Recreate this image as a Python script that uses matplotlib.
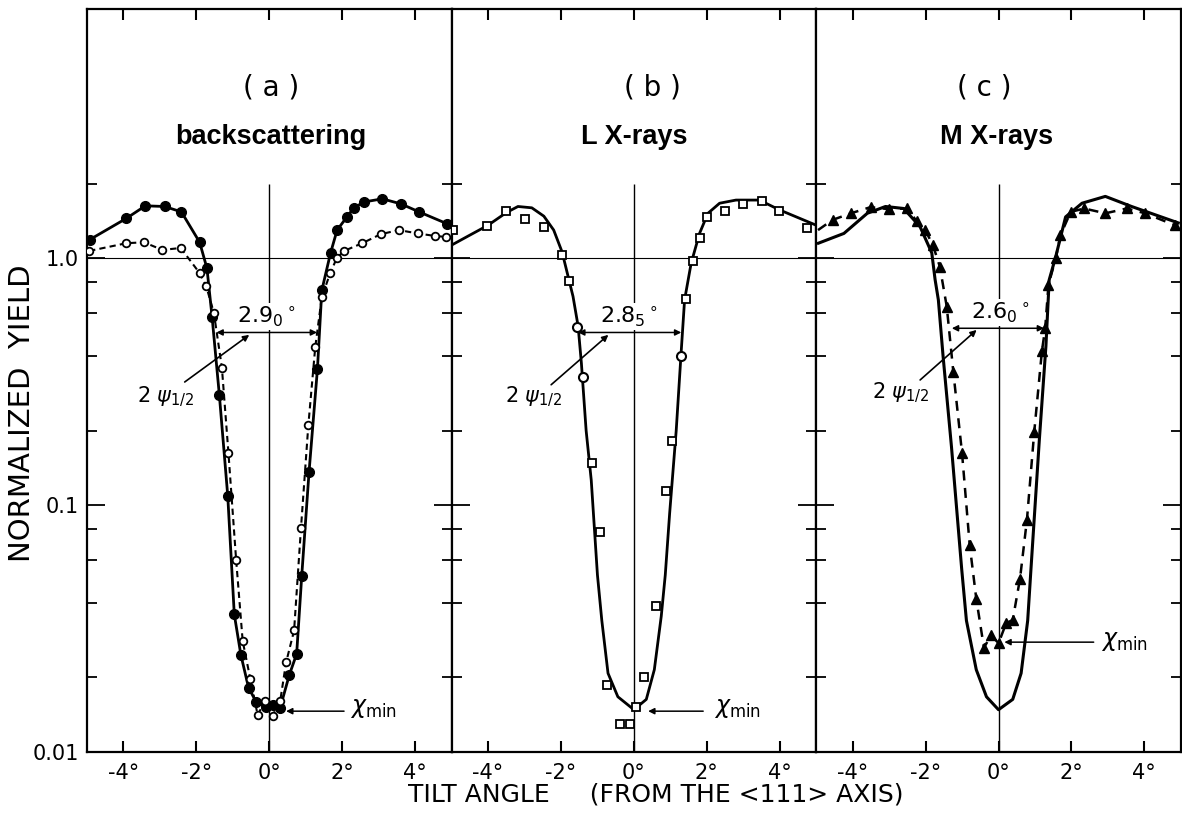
import matplotlib
matplotlib.use("Agg")
import matplotlib.pyplot as plt
from matplotlib.ticker import FixedLocator, NullFormatter

plt.rcParams["font.family"] = ["DejaVu Sans"]

# panel (a) backscattering: filled circles (solid line) and open circles (dashed line)
a_filled_x = [-4.92, -3.92, -3.40, -2.87, -2.41, -1.91, -1.71, -1.57, -1.37, -1.14, -0.96, -0.78, -0.57,
              -0.36, -0.09, 0.10, 0.30, 0.55, 0.75, 0.89, 1.09, 1.32, 1.44, 1.68, 1.86, 2.13, 2.32, 2.60,
              3.10, 3.61, 4.11, 4.87]
a_filled_y = [1.19, 1.45, 1.63, 1.62, 1.54, 1.16, 0.91, 0.58, 0.279, 0.109, 0.036, 0.0247, 0.0182,
              0.0159, 0.0152, 0.0155, 0.0151, 0.0205, 0.0249, 0.0517, 0.136, 0.355, 0.74, 1.05, 1.30, 1.47,
              1.60, 1.69, 1.74, 1.66, 1.54, 1.38]
a_open_x = [-4.94, -3.92, -3.44, -2.93, -2.43, -1.91, -1.73, -1.52, -1.30, -1.12, -0.91, -0.73, -0.52,
            -0.32, -0.11, 0.09, 0.30, 0.46, 0.68, 0.87, 1.07, 1.26, 1.44, 1.67, 1.85, 2.05, 2.55, 3.05,
            3.55, 4.07, 4.55, 4.85]
a_open_y = [1.07, 1.15, 1.16, 1.08, 1.10, 0.87, 0.77, 0.60, 0.36, 0.162, 0.060, 0.0281, 0.0197,
            0.0141, 0.0161, 0.0140, 0.0161, 0.0230, 0.031, 0.081, 0.21, 0.436, 0.695, 0.87, 1.0, 1.07,
            1.15, 1.25, 1.30, 1.26, 1.23, 1.22]

# panel (b) L X-rays: squares, a few circles, calculated curve
b_sq_x = [-4.95, -4.02, -3.50, -3.00, -2.47, -1.97, -1.79, -1.15, -0.94, -0.73, -0.37, -0.12, 0.06,
          0.27, 0.61, 0.87, 1.04, 1.43, 1.62, 1.82, 2.01, 2.51, 3.00, 3.52, 3.99, 4.74]
b_sq_y = [1.30, 1.35, 1.55, 1.44, 1.34, 1.03, 0.81, 0.148, 0.0775, 0.0186, 0.0129, 0.0129, 0.0152,
          0.0201, 0.039, 0.114, 0.181, 0.684, 0.975, 1.21, 1.47, 1.56, 1.66, 1.70, 1.55, 1.32]
b_circ_x = [-1.55, -1.40, 1.28]
b_circ_y = [0.525, 0.33, 0.402]
b_curve_x = [-5.0, -4.5, -4.0, -3.5, -3.18, -2.8, -2.47, -2.2, -1.97, -1.67, -1.53, -1.44, -1.31, -1.17,
             -1.0, -0.88, -0.71, -0.44, 0.0, 0.34, 0.56, 0.75, 0.86, 0.98, 1.16, 1.30, 1.39, 1.57, 1.80,
             2.03, 2.35, 2.80, 3.44, 3.99, 5.0]
b_curve_y = [1.13, 1.24, 1.36, 1.53, 1.62, 1.60, 1.48, 1.30, 1.06, 0.70, 0.53, 0.375, 0.20, 0.126,
             0.052, 0.034, 0.0208, 0.0167, 0.0148, 0.0163, 0.0215, 0.0354, 0.052, 0.0924, 0.20, 0.425,
             0.678, 0.954, 1.26, 1.52, 1.67, 1.72, 1.72, 1.57, 1.36]

# panel (c) M X-rays: triangles (dashed) and calculated curve
c_tri_x = [-4.55, -4.05, -3.51, -3.01, -2.51, -2.24, -2.01, -1.80, -1.61, -1.42, -1.24, -1.0, -0.79,
           -0.61, -0.40, -0.20, 0.0, 0.21, 0.39, 0.59, 0.78, 0.98, 1.19, 1.28, 1.37, 1.57, 1.70, 1.98,
           2.35, 2.93, 3.52, 4.02, 4.84]
c_tri_y = [1.43, 1.52, 1.61, 1.58, 1.59, 1.41, 1.30, 1.13, 0.925, 0.637, 0.347, 0.162, 0.0687,
           0.0417, 0.0264, 0.0297, 0.0275, 0.0332, 0.0342, 0.0503, 0.0872, 0.198, 0.42, 0.52, 0.78,
           1.0, 1.24, 1.54, 1.59, 1.52, 1.59, 1.52, 1.36]
c_dash_start = (-4.95, 1.30)
c_curve_x = [-4.94, -4.24, -3.60, -3.10, -2.60, -2.15, -1.83, -1.74, -1.65, -1.52, -1.29, -1.01, -0.88,
             -0.61, -0.33, 0.0, 0.39, 0.62, 0.80, 0.89, 1.12, 1.30, 1.39, 1.57, 1.84, 2.29, 2.93, 3.65,
             4.93]
c_curve_y = [1.15, 1.26, 1.52, 1.62, 1.59, 1.34, 1.05, 0.82, 0.678, 0.40, 0.172, 0.055, 0.034,
             0.0215, 0.0167, 0.0148, 0.0163, 0.0208, 0.034, 0.055, 0.184, 0.44, 0.817, 1.015, 1.47,
             1.67, 1.78, 1.62, 1.39]

panel_tags = ["( a )", "( b )", "( c )"]
panel_names = ["backscattering", "L X-rays", "M X-rays"]
widths = [r"2.9$_0$$^\circ$", r"2.8$_5$$^\circ$", r"2.6$_0$$^\circ$"]
width_arrow = [(-1.45, 1.31, 0.50), (-1.53, 1.30, 0.50), (-1.28, 1.25, 0.52)]
width_label = [(-0.08, 0.58), (-0.13, 0.58), (0.05, 0.60)]
psi_line = [((-2.32, 0.315), (-0.55, 0.489)), ((-2.27, 0.307), (-0.70, 0.489)),
            ((-2.15, 0.321), (-0.60, 0.512))]
psi_label = [(-2.84, 0.274), (-2.76, 0.274), (-2.69, 0.284)]
chi_arrow = [(2.05, 0.46, 0.0146), (1.90, 0.39, 0.0146), (2.61, 0.16, 0.0278)]
chi_label = [(2.2, 0.0150), (2.2, 0.0150), (2.8, 0.0280)]
tag_x = [0.05, 0.5, -0.4]
name_x = [0.05, 0.0, -0.05]

xticks = [-4, -2, 0, 2, 4]
xticklabels = ["-4°", "-2°", "0°", "2°", "4°"]
yticks = [0.01, 0.1, 1.0]
yticklabels = ["0.01", "0.1", "1.0"]
yminor = [0.02, 0.04, 0.06, 0.08, 0.2, 0.4, 0.6, 0.8, 2.0]

fig, axes = plt.subplots(1, 3, sharey=True, figsize=(11.82, 8.30), dpi=100)
fig.subplots_adjust(left=0.0736, right=0.999, bottom=0.0943, top=0.9888, wspace=0)

for i, ax in enumerate(axes):
    ax.set_yscale("log")
    ax.set_xlim(-5, 5)
    ax.set_ylim(0.01, 10.2)
    for s in ax.spines.values():
        s.set_linewidth(1.6)
    ax.axhline(1.0, color="k", lw=0.8, zorder=1)
    ax.vlines(0, 0.01, 2.0, color="k", lw=1.0, zorder=1)
    ax.set_xticks(xticks)
    ax.set_xticklabels(xticklabels, fontsize=15)
    ax.yaxis.set_major_locator(FixedLocator(yticks))
    ax.yaxis.set_minor_locator(FixedLocator(yminor))
    ax.yaxis.set_minor_formatter(NullFormatter())
    ax.tick_params(axis="x", which="major", direction="in", top=True, bottom=True, length=8, width=1.5,
                   pad=8)
    ax.tick_params(axis="y", which="major", direction="in", left=True, right=True, length=13, width=1.3,
                   labelsize=15, pad=6)
    ax.tick_params(axis="y", which="minor", direction="in", left=True, right=True, length=7, width=1.3)

    ax.text(tag_x[i], 0.894, panel_tags[i], transform=ax.get_xaxis_transform(), ha="center",
            va="center", fontsize=20)
    ax.text(name_x[i], 0.828, panel_names[i], transform=ax.get_xaxis_transform(), ha="center",
            va="center", fontsize=19.5, fontweight="bold", family="Liberation Sans")

    x1, x2, yy = width_arrow[i]
    ax.annotate("", xy=(x2, yy), xytext=(x1, yy),
                arrowprops=dict(arrowstyle="<|-|>", lw=1.1, color="k", mutation_scale=9,
                                shrinkA=0, shrinkB=0))
    ax.text(width_label[i][0], width_label[i][1], widths[i], ha="center", va="center", fontsize=16,
            bbox=dict(facecolor="white", edgecolor="none", pad=1))
    ax.annotate("", xy=psi_line[i][1], xytext=psi_line[i][0],
                arrowprops=dict(arrowstyle="-|>", lw=1.2, color="k", mutation_scale=9,
                                shrinkA=0, shrinkB=0))
    ax.text(psi_label[i][0], psi_label[i][1], r"2 $\psi_{1/2}$", ha="center", va="center", fontsize=15)

    cx1, cx2, cy = chi_arrow[i]
    ax.annotate("", xy=(cx2, cy), xytext=(cx1, cy),
                arrowprops=dict(arrowstyle="-|>", lw=1.1, color="k", mutation_scale=9,
                                shrinkA=0, shrinkB=0))
    ax.text(chi_label[i][0], chi_label[i][1], r"$\chi_{\rm min}$", ha="left", va="center", fontsize=17)

ax = axes[0]
ax.plot(a_filled_x, a_filled_y, "-", color="k", lw=2.0, marker="o", ms=7, mfc="k", mec="k", zorder=3)
ax.plot(a_open_x, a_open_y, color="k", lw=1.5, ls=(0, (3, 2)), marker="o", ms=5.5, mfc="white",
        mec="k", mew=1.3, zorder=4)
ax.set_yticklabels(yticklabels)

ax = axes[1]
ax.plot(b_curve_x, b_curve_y, "-", color="k", lw=2.0, zorder=3)
ax.plot(b_sq_x, b_sq_y, "s", ms=6, mfc="white", mec="k", mew=1.3, zorder=4)
ax.plot(b_circ_x, b_circ_y, "o", ms=6.5, mfc="white", mec="k", mew=1.5, zorder=4)

ax = axes[2]
ax.plot(c_curve_x, c_curve_y, "-", color="k", lw=2.2, zorder=3)
ax.plot([c_dash_start[0]] + c_tri_x, [c_dash_start[1]] + c_tri_y, color="k", lw=1.8,
        ls=(0, (4, 3)), zorder=3)
ax.plot(c_tri_x, c_tri_y, "^", ms=7, color="k", zorder=4)

fig.text(0.019, 0.502, "NORMALIZED  YIELD", rotation=90, ha="center", va="center", fontsize=21)
fig.text(0.555, 0.043, "TILT ANGLE     (FROM THE <111> AXIS)", ha="center", va="center", fontsize=18)

fig.savefig("out.png", dpi=100)
